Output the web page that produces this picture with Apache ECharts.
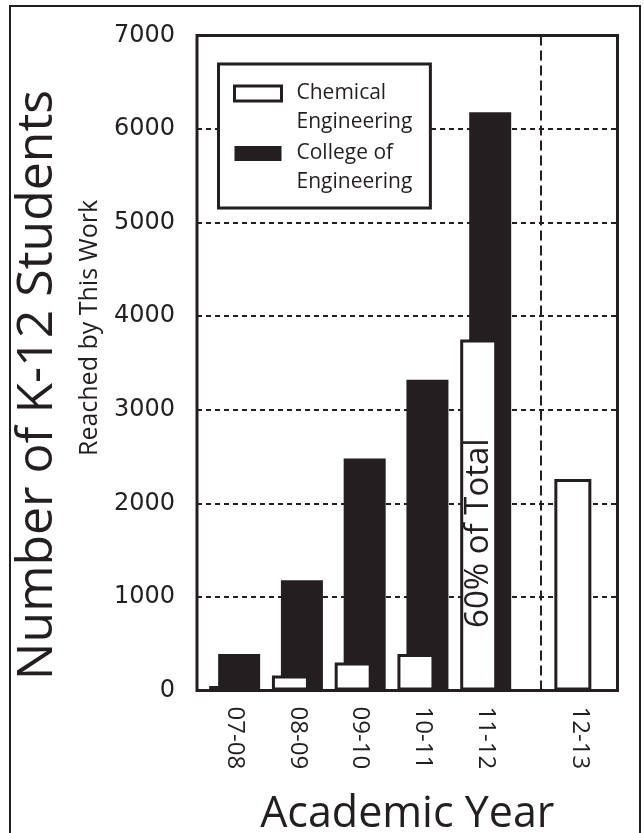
<!DOCTYPE html>
<html>
<head>
<meta charset="utf-8">
<script src="https://cdn.jsdelivr.net/npm/echarts@6/dist/echarts.min.js"></script>
<style>
html,body{margin:0;padding:0;background:#fff;}
#chart{width:644px;height:833px;}
</style>
</head>
<body>
<div id="chart"></div>
<script>
// ---- data ----
const categories = ['07-08', '08-09', '09-10', '10-11', '11-12', '12-13'];
const yearPos = [0, 1, 2, 3, 4, 5.5];
const chemEng = [50, 160, 300, 390, 3750, 2260];
const collegeEng = [390, 1180, 2480, 3320, 6180, null];
const seriesNames = ['Chemical Engineering', 'College of Engineering'];
const annotationText = '60% of Total';
const annotationIndex = 4;
const dividerPos = 4.8;
const yTitle = 'Number of K-12 Students';
const ySubtitle = 'Reached by This Work';
const xTitle = 'Academic Year';

const INK = '#231f20';
const FONT = "'Open Sans', 'Noto Sans', sans-serif";

const chart = echarts.init(document.getElementById('chart'), null, {renderer: 'canvas'});

const chemData = chemEng.map((v, i) => {
  const item = {value: [yearPos[i], v]};
  if (i === annotationIndex) {
    item.label = {
      show: true,
      formatter: annotationText,
      position: 'inside',
      rotate: 90,
      offset: [-18, 0],
      color: INK,
      fontFamily: FONT,
      fontSize: 33
    };
  }
  return item;
});
const collegeData = collegeEng.map((v, i) => [yearPos[i], v]);

const option = {
  animation: false,
  backgroundColor: '#fff',
  graphic: [{
    type: 'rect',
    shape: {x: 10, y: 6, width: 630, height: 900},
    style: {fill: 'none', stroke: INK, lineWidth: 2},
    z: -10
  }],
  grid: {
    left: 197, right: 26.5, top: 35.4, bottom: 142.4,
    outerBoundsMode: 'none',
    containLabel: false,
    show: true, borderColor: INK, borderWidth: 3, backgroundColor: 'transparent'
  },
  legend: {
    data: seriesNames,
    orient: 'vertical',
    left: 218.5, top: 64,
    padding: [15, 18, 11, 14.5],
    itemGap: 2,
    itemWidth: 47,
    itemHeight: 44,
    icon: 'path://M0,0L47,0L47,15L0,15Z M0,44',
    itemStyle: {borderWidth: 'inherit'},
    backgroundColor: '#fff',
    borderColor: INK,
    borderWidth: 3,
    borderRadius: 0,
    selectedMode: false,
    formatter: n => n.replace(/ (Engineering)$/, '\n$1'),
    textStyle: {
      fontFamily: FONT, fontSize: 21, color: INK, lineHeight: 29,
      padding: [0, 0, 0, 10]
    }
  },
  xAxis: {
    type: 'value',
    min: -0.6, max: 6.1,
    splitLine: {show: false},
    axisLine: {show: false},
    axisTick: {show: false},
    axisLabel: {
      customValues: yearPos,
      formatter: v => categories[yearPos.indexOf(v)] || '',
      rotate: -90,
      margin: 16,
      color: INK,
      fontFamily: FONT,
      fontSize: 24
    },
    name: xTitle,
    nameLocation: 'middle',
    nameGap: 99,
    nameTextStyle: {fontFamily: FONT, fontSize: 43, color: INK, lineHeight: 50}
  },
  yAxis: [{
    type: 'value',
    min: 0, max: 7000, interval: 1000,
    axisLine: {show: false},
    axisTick: {show: false},
    axisLabel: {
      margin: 22, color: INK, fontFamily: "'DejaVu Sans', sans-serif", fontSize: 24,
      formatter: v => String(v)
    },
    splitLine: {show: true, lineStyle: {color: INK, width: 2, type: [5, 4]}},
    name: yTitle,
    nameLocation: 'middle',
    nameRotate: 90,
    nameGap: 131,
    nameTextStyle: {fontFamily: FONT, fontSize: 50, color: INK, lineHeight: 56, padding: [0, 44, 0, 0]}
  }, {
    type: 'value',
    min: 0, max: 7000, interval: 1000,
    position: 'left',
    axisLine: {show: false},
    axisTick: {show: false},
    axisLabel: {show: false},
    splitLine: {show: false},
    name: ySubtitle,
    nameLocation: 'middle',
    nameRotate: 90,
    nameGap: 94,
    nameTextStyle: {fontFamily: FONT, fontSize: 25, color: INK, lineHeight: 26, padding: [0, 0, 0, 70]}
  }],
  series: [{
    name: seriesNames[0],
    type: 'bar',
    z: 3,
    data: chemData,
    barWidth: 37,
    barGap: '-75.7%',
    itemStyle: {color: '#fff', borderColor: INK, borderWidth: 3}
  }, {
    name: seriesNames[1],
    type: 'bar',
    z: 2,
    data: collegeData,
    barWidth: 42,
    barGap: '-75.7%',
    itemStyle: {color: INK},
    markLine: {
      silent: true,
      symbol: 'none',
      label: {show: false},
      lineStyle: {color: INK, width: 2, type: [10, 5]},
      data: [{xAxis: dividerPos}]
    }
  }]
};
chart.setOption(option);
</script>
</body>
</html>
